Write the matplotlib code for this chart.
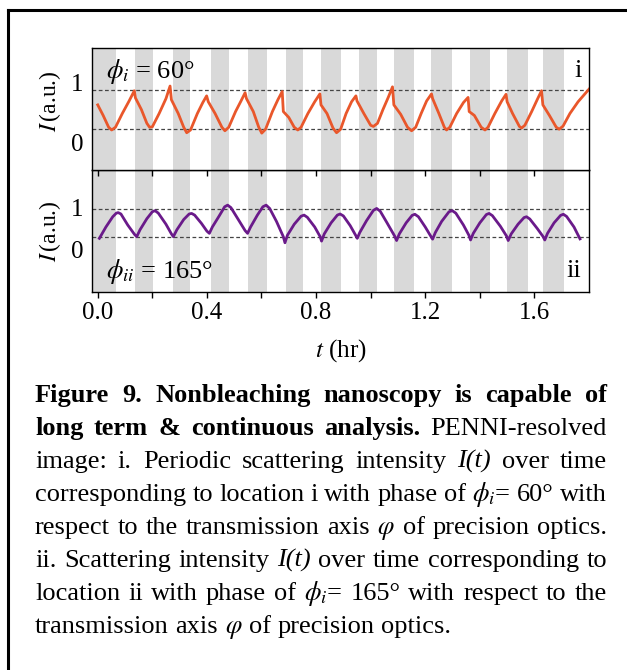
import numpy as np
import matplotlib
matplotlib.use('Agg')
import matplotlib.pyplot as plt
from matplotlib.lines import Line2D

plt.rcParams['font.family'] = ['Liberation Serif', 'DejaVu Serif']
plt.rcParams['mathtext.fontset'] = 'stix'

# ---- data ----
# panel i (phi_i = 60 deg), normalised so dashed lines are 0 and 1
top_t = [0.000, 0.020, 0.040, 0.051, 0.065, 0.090, 0.115, 0.134, 0.138, 0.160, 0.180, 0.190,
         0.200, 0.225, 0.250, 0.265, 0.270, 0.295, 0.315, 0.326,
         0.340, 0.365, 0.385, 0.399, 0.405, 0.430, 0.455, 0.466,
         0.480, 0.505, 0.525, 0.540, 0.545, 0.570, 0.590, 0.601,
         0.615, 0.640, 0.660, 0.676, 0.680, 0.700, 0.720, 0.733,
         0.745, 0.770, 0.795, 0.814, 0.818, 0.840, 0.862, 0.875,
         0.890, 0.910, 0.930, 0.946, 0.950, 0.975, 1.000, 1.010,
         1.025, 1.045, 1.065, 1.080, 1.085, 1.110, 1.135, 1.150,
         1.165, 1.185, 1.205, 1.223, 1.227, 1.250, 1.270, 1.278,
         1.290, 1.315, 1.340, 1.357, 1.361, 1.380, 1.405, 1.419,
         1.430, 1.455, 1.480, 1.496, 1.500, 1.520, 1.545, 1.553,
         1.565, 1.590, 1.610, 1.626, 1.631, 1.655, 1.680, 1.691,
         1.705, 1.730, 1.760, 1.800]
top_v = [0.62, 0.35, 0.05, -0.02, 0.05, 0.40, 0.72, 0.98, 0.80, 0.50, 0.15, 0.05,
         0.06, 0.40, 0.78, 1.10, 0.75, 0.40, 0.05, -0.09,
         -0.02, 0.40, 0.68, 0.85, 0.70, 0.40, 0.05, -0.04,
         0.05, 0.45, 0.72, 0.93, 0.78, 0.45, 0.05, -0.10,
         0.00, 0.45, 0.75, 0.96, 0.45, 0.30, 0.05, -0.02,
         0.05, 0.40, 0.70, 0.90, 0.62, 0.40, 0.03, -0.09,
         0.00, 0.40, 0.70, 0.85, 0.72, 0.40, 0.10, 0.07,
         0.15, 0.50, 0.82, 1.08, 0.62, 0.38, 0.05, -0.04,
         0.05, 0.40, 0.72, 0.90, 0.78, 0.40, 0.05, -0.02,
         0.05, 0.40, 0.68, 0.81, 0.45, 0.35, 0.05, -0.02,
         0.05, 0.40, 0.72, 0.89, 0.70, 0.40, 0.07, 0.03,
         0.10, 0.45, 0.75, 0.98, 0.62, 0.35, 0.05, 0.00,
         0.08, 0.40, 0.70, 1.02]

# panel ii (phi_ii = 165 deg)
bot_t = [0.006, 0.030, 0.055, 0.068, 0.075, 0.085, 0.110, 0.135, 0.143,
         0.155, 0.180, 0.200, 0.210, 0.222, 0.250, 0.270, 0.277,
         0.290, 0.315, 0.335, 0.344, 0.355, 0.380, 0.400, 0.409,
         0.420, 0.445, 0.465, 0.476, 0.488, 0.515, 0.540, 0.549,
         0.560, 0.585, 0.605, 0.617, 0.630, 0.655, 0.680, 0.686,
         0.695, 0.720, 0.745, 0.756, 0.768, 0.795, 0.815, 0.820,
         0.830, 0.855, 0.878, 0.888, 0.900, 0.925, 0.945, 0.951,
         0.960, 0.985, 1.010, 1.022, 1.035, 1.060, 1.088, 1.095,
         1.105, 1.130, 1.152, 1.162, 1.175, 1.200, 1.220, 1.227,
         1.237, 1.260, 1.287, 1.299, 1.312, 1.340, 1.360, 1.366,
         1.376, 1.400, 1.424, 1.434, 1.446, 1.475, 1.498, 1.504,
         1.515, 1.540, 1.562, 1.571, 1.583, 1.610, 1.632, 1.638,
         1.648, 1.672, 1.696, 1.706, 1.718, 1.745, 1.767]
bot_v = [-0.06, 0.35, 0.72, 0.85, 0.87, 0.82, 0.42, 0.08, 0.00,
         0.25, 0.65, 0.90, 0.94, 0.85, 0.45, 0.10, 0.00,
         0.25, 0.62, 0.82, 0.84, 0.78, 0.48, 0.20, 0.12,
         0.35, 0.75, 1.08, 1.14, 1.05, 0.62, 0.22, 0.12,
         0.35, 0.78, 1.08, 1.14, 1.02, 0.55, 0.00, -0.22,
         0.05, 0.45, 0.74, 0.78, 0.70, 0.35, 0.00, -0.16,
         0.10, 0.50, 0.78, 0.82, 0.75, 0.40, 0.05, -0.06,
         0.15, 0.58, 0.95, 1.02, 0.92, 0.50, 0.02, -0.14,
         0.10, 0.50, 0.77, 0.81, 0.72, 0.35, 0.02, -0.09,
         0.15, 0.55, 0.90, 0.94, 0.85, 0.42, 0.05, -0.12,
         0.12, 0.50, 0.80, 0.84, 0.76, 0.38, 0.02, -0.14,
         0.10, 0.45, 0.69, 0.72, 0.64, 0.30, 0.00, -0.12,
         0.12, 0.50, 0.77, 0.81, 0.73, 0.35, -0.08]

# grey shaded intervals (hr)
stripe_start = [-0.05, 0.138, 0.277, 0.415, 0.552, 0.690, 0.818, 0.958, 1.086, 1.221, 1.363, 1.499, 1.632]
stripe_end = [0.066, 0.201, 0.339, 0.480, 0.619, 0.753, 0.890, 1.024, 1.160, 1.299, 1.437, 1.576, 1.709]

xticks = [0.0, 0.2, 0.4, 0.6, 0.8, 1.0, 1.2, 1.4, 1.6]
xticklabels = ['0.0', '', '0.4', '', '0.8', '', '1.2', '', '1.6']

caption = [
    [("Figure 9. Nonbleaching nanoscopy is capable of", "bold")],
    [("long term & continuous analysis.", "bold"), ("PENNI-resolved", "normal")],
    [("image: i. Periodic scattering intensity", "normal"), ("I(t)", "italic"), ("over time", "normal")],
    [("corresponding to location i with phase of", "normal"), (r"$\phi_i$= 60° with", "normal")],
    [("respect to the transmission axis", "normal"), (r"$\varphi$", "normal"), ("of precision optics.", "normal")],
    [("ii. Scattering intensity", "normal"), ("I(t)", "italic"), ("over time corresponding to", "normal")],
    [("location ii with phase of", "normal"), (r"$\phi_i$= 165° with respect to the", "normal")],
    [("transmission axis", "normal"), (r"$\varphi$", "normal"), ("of precision optics.", "normal")],
]

# ---- figure ----
W, H = 627, 670
fig = plt.figure(figsize=(W / 100, H / 100), dpi=100)


def px_box(x0, y0, x1, y1):
    return [x0 / W, 1 - y1 / H, (x1 - x0) / W, (y1 - y0) / H]


ax1 = fig.add_axes(px_box(92, 48, 589, 170))
ax2 = fig.add_axes(px_box(92, 170, 589, 292))
ax1.set_zorder(3)

grey = '#d9d9d9'
for ax in (ax1, ax2):
    for s, e in zip(stripe_start, stripe_end):
        ax.axvspan(s, e, color=grey, lw=0, zorder=0)
    ax.axhline(0, color='#444444', lw=0.9, ls=(0, (3, 2)), zorder=1)
    ax.axhline(1, color='#444444', lw=0.9, ls=(0, (3, 2)), zorder=1)
    ax.set_xlim(-0.021, 1.80)
    ax.set_xticks(xticks)
    ax.tick_params(axis='x', direction='out', length=4, width=1, pad=3, labelsize=18)
    ax.tick_params(axis='y', length=0, pad=6, labelsize=18)
    for sp in ax.spines.values():
        sp.set_linewidth(1.0)

ax1.plot(top_t, top_v, color='#e9572b', lw=2.0, zorder=2)
ax2.plot(bot_t, bot_v, color='#6a1a8a', lw=2.0, zorder=2)

ax1.set_ylim(-1.04, 2.07)
ax2.set_ylim(-2.0, 2.41)
ax1.set_yticks([-0.35, 1.18], ['0', '1'])
ax2.set_yticks([-0.48, 1.05], ['0', '1'])
ax1.tick_params(axis='x', labelbottom=False)
ax2.set_xticks(xticks, xticklabels)

ax1.text(0.028, 0.754, r'$\phi_i$ = 60°', transform=ax1.transAxes, fontsize=19, ha='left', va='baseline')
ax1.text(0.985, 0.762, 'i', transform=ax1.transAxes, fontsize=19, ha='right', va='baseline')
ax2.text(0.028, 0.115, r'$\phi_{ii}$ = 165°', transform=ax2.transAxes, fontsize=19, ha='left', va='baseline')
ax2.text(0.985, 0.123, 'ii', transform=ax2.transAxes, fontsize=19, ha='right', va='baseline')

fig.text(50 / W, 1 - 101 / H, r'$I\,$(a.u.)', rotation=90, ha='center', va='center', fontsize=17)
fig.text(50 / W, 1 - 231 / H, r'$I\,$(a.u.)', rotation=90, ha='center', va='center', fontsize=17)
fig.text(340.5 / W, 1 - 351 / H, r'$t$ (hr)', ha='center', va='center', fontsize=18)

# outer frame (left and top edges visible)
fig.add_artist(Line2D([8 / W, 8 / W], [1 - 10 / H, -0.05], transform=fig.transFigure,
                      color='black', lw=2.2, solid_capstyle='projecting'))
fig.add_artist(Line2D([8 / W, 1.05], [1 - 10 / H, 1 - 10 / H], transform=fig.transFigure,
                      color='black', lw=2.2, solid_capstyle='projecting'))

# ---- justified caption ----
cap_fs = 19
left_px, right_px = 35, 607
base0, step = 402, 33
renderer = fig.canvas.get_renderer()
for i, line in enumerate(caption):
    y = 1 - (base0 + i * step) / H
    words = []
    for seg, style in line:
        for w in seg.split(' '):
            words.append((w, style))
    texts = []
    for w, style in words:
        kw = dict(fontsize=cap_fs, ha='left', va='baseline')
        if style == 'bold':
            kw['fontweight'] = 'bold'
        if style == 'italic':
            kw['fontstyle'] = 'italic'
        texts.append(fig.text(0, y, w, **kw))
    widths = [t.get_window_extent(renderer).width for t in texts]
    if i < len(caption) - 1:
        gap = (right_px - left_px - sum(widths)) / (len(texts) - 1)
    else:
        gap = 0.25 * cap_fs * 100 / 72
    x = left_px
    for t, wd in zip(texts, widths):
        t.set_x(x / W)
        x += wd + gap

fig.savefig('out.png', dpi=100)
